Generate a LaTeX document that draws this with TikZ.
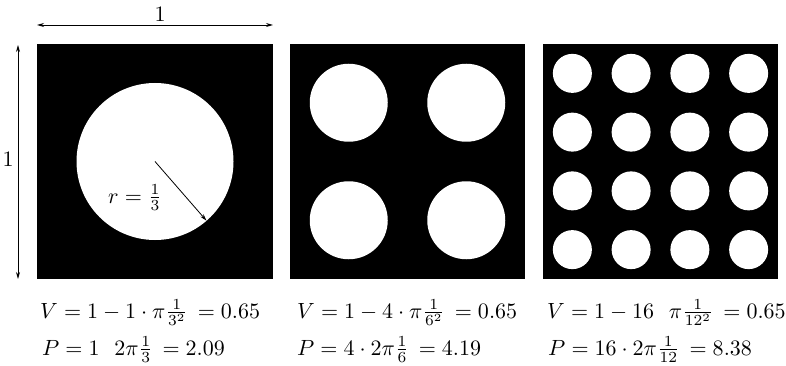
\documentclass[tikz,border=0pt]{standalone}
\usetikzlibrary{arrows.meta}
\newcommand{\bigtxt}[1]{\scalebox{2.2}{#1}}
\begin{document}
\begin{tikzpicture}[x=1pt,y=-1pt,
  dimarrow/.style={line width=0.9pt,{Stealth[length=7pt,width=4pt]}-{Stealth[length=7pt,width=4pt]}},
  radarrow/.style={line width=0.8pt,-{Stealth[length=7pt,width=4pt]}},
  hole/.style={fill=white},
  plate/.style={fill=black},
  lbl/.style={inner sep=0pt},
  formula/.style={inner sep=0pt,anchor=base west}]
\useasboundingbox[fill=white] (0,0) rectangle (786,366);
% plates
\fill[plate] (37,44) rectangle (273,279);
\fill[plate] (290,44) rectangle (525,279);
\fill[plate] (543,44) rectangle (778,279);
% holes
\fill[hole] (155,161.5) circle (78.5pt);
\foreach \cx in {348.75,466.25}
  \foreach \cy in {102.75,220.25}
    \fill[hole] (\cx,\cy) circle (39pt);
\foreach \i in {0,1,2,3}
  \foreach \j in {0,1,2,3}
    \fill[hole] ({543+29.375+58.75*\i},{44+29.375+58.75*\j}) circle (19.5pt);
% dimension arrows
\coordinate (hL) at (37,25);
\coordinate (hR) at (273,25);
\coordinate (vT) at (18,45);
\coordinate (vB) at (18,279);
\draw[dimarrow] (hL) -- (hR);
\draw[dimarrow] (vT) -- (vB);
\node[lbl] (topone) at (160,14) {\bigtxt{$1$}};
\node[lbl] (leftone) at (8,159) {\bigtxt{$1$}};
% radius
\coordinate (c1) at (155,161.5);
\coordinate (rim) at (206.5,220.7);
\draw[radarrow] (c1) -- (rim);
\node[formula] (rlab) at (108,203) {\bigtxt{$r=\frac{1}{3}$}};
% formulas
\node[formula] (v1) at (40,318) {\bigtxt{$V=1-1\cdot\pi\frac{1}{3^2}\,=0.65$}};
\node[formula] (p1) at (42,355) {\bigtxt{$P=1\ \ 2\pi\frac{1}{3}\,=2.09$}};
\node[formula] (v2) at (297,318) {\bigtxt{$V=1-4\cdot\pi\frac{1}{6^2}\,=0.65$}};
\node[formula] (p2) at (297,355) {\bigtxt{$P=4\cdot2\pi\frac{1}{6}\,=4.19$}};
\node[formula] (v3) at (547,318) {\bigtxt{$V=1-16\ \ \pi\frac{1}{12^2}\,=0.65$}};
\node[formula] (p3) at (548,355) {\bigtxt{$P=16\cdot2\pi\frac{1}{12}\,=8.38$}};
\end{tikzpicture}
\end{document}
